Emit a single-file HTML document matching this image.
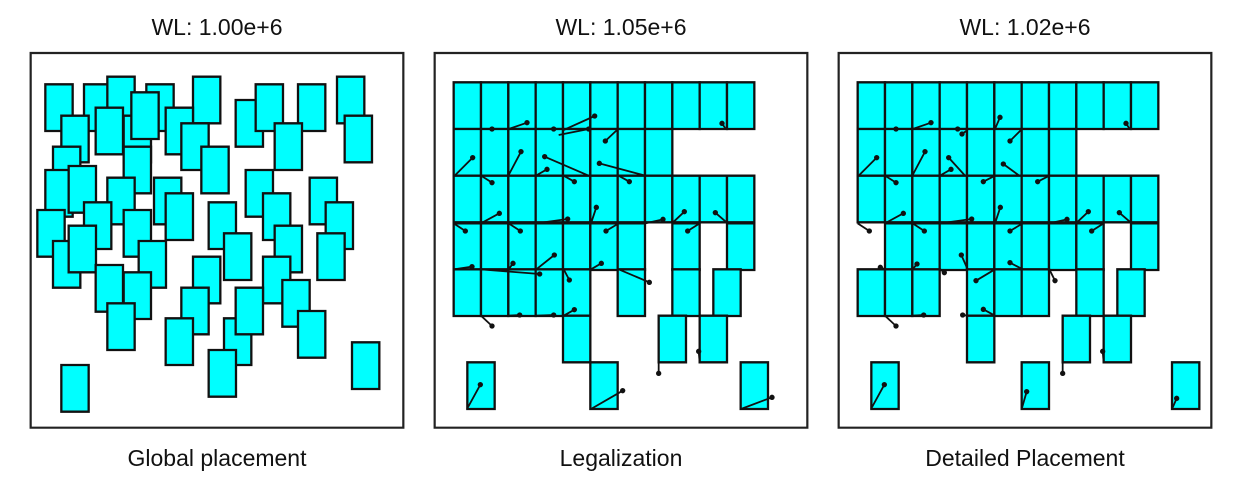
<!DOCTYPE html>
<html><head><meta charset="utf-8"><style>
body{margin:0;background:#fff;width:1236px;height:493px;overflow:hidden}
svg text{font-family:"Liberation Sans",sans-serif;font-size:23px;fill:#111}
</style></head><body>
<svg id="s" width="1236" height="493">
<text x="217" y="35" text-anchor="middle">WL: 1.00e+6</text>
<text x="621" y="35" text-anchor="middle">WL: 1.05e+6</text>
<text x="1025" y="35" text-anchor="middle">WL: 1.02e+6</text>
<text x="217" y="466" text-anchor="middle">Global placement</text>
<text x="621" y="466" text-anchor="middle">Legalization</text>
<text x="1025" y="466" text-anchor="middle">Detailed Placement</text>
</svg>
<script>
const NS="http://www.w3.org/2000/svg";
const svg=document.getElementById('s');
const W=82,H=140,X0=65,CW=82,RY=[97,237,377,520,658,797,937];
const globalCells=[[52,103],[168,103],[238,80],[355,103],[495,80],[623,150],[683,103],[810,103],[927,80],[100,197],[203,173],[287,197],[310,127],[413,173],[460,220],[520,290],[740,220],[950,197],[75,290],[52,360],[122,348],[287,290],[238,383],[378,383],[413,430],[653,360],[845,383],[28,480],[168,457],[287,480],[542,457],[705,430],[893,457],[75,573],[122,527],[332,573],[588,550],[740,527],[868,550],[203,645],[287,667],[238,760],[495,620],[705,620],[460,713],[763,690],[413,805],[588,805],[623,713],[810,783],[542,900],[972,877],[100,945]];
const legalRows=[[0,1,2,3,4,5,6,7,8,9,10],[0,1,2,3,4,5,6,7],[0,1,2,3,4,5,6,7,8,9,10],[0,1,2,3,4,5,6,8,10],[0,1,2,3,4,6,8,9.5],[4,7.5,9],[0.5,5,10.5]];
const detailRows=[[0,1,2,3,4,5,6,7,8,9,10],[0,1,2,3,4,5,6,7],[0,1,2,3,4,5,6,7,8,9,10],[1,2,3,4,5,6,7,8,10],[0,1,2,4,5,6,8,9.5],[4,7.5,9],[0.5,6,11.5]];
const legalPins=[[180,237,180,237],[230,237,285,218],[365,237,365,237],[395,240,488,198],[380,255,470,237],[555,240,520,273],[880,235,870,220],[70,375,122,323],[230,375,267,305],[315,375,345,358],[470,377,338,320],[640,377,502,340],[147,377,180,398],[395,377,427,395],[560,377,592,395],[147,520,202,490],[313,520,407,507],[477,520,493,472],[640,520,693,508],[720,520,757,485],[887,520,850,488],[65,520,100,543],[230,520,265,543],[560,520,522,543],[803,520,767,543],[65,658,120,650],[147,658,323,672],[230,658,243,640],[313,658,367,615],[395,658,412,690],[477,658,508,640],[560,658,652,697],[147,797,180,828],[230,797,263,795],[313,797,365,795],[395,797,427,779],[680,937,680,970],[803,937,800,904],[105,1077,145,1004],[477,1077,572,1022],[927,1077,1020,1042]];
const detailPins=[[180,237,180,237],[230,237,285,218],[365,237,365,237],[395,240,378,252],[477,237,492,202],[555,240,522,273],[880,235,870,220],[70,375,122,323],[230,375,267,305],[315,375,345,358],[387,377,338,323],[550,377,502,342],[147,377,180,398],[477,377,442,395],[640,377,605,395],[147,520,202,490],[313,520,407,507],[477,520,493,472],[640,520,693,508],[720,520,757,485],[887,520,850,488],[65,520,100,543],[230,520,265,543],[560,520,522,543],[803,520,767,543],[147,658,133,652],[230,658,243,642],[313,658,325,668],[395,658,376,615],[477,658,420,692],[560,658,522,638],[640,658,657,692],[147,797,180,828],[230,797,263,795],[395,797,380,795],[477,797,442,778],[680,797,680,970],[803,937,800,904],[105,1077,145,1004],[557,1077,572,1025],[1008,1077,1022,1045]];
function el(t,a,p){const e=document.createElementNS(NS,t);for(const k in a)e.setAttribute(k,a[k]);p.appendChild(e);return e;}
function panel(ox,name){
 const g=el('g',{transform:`translate(${ox},50) scale(${1/3})`},svg);
 
 
 const f=el('rect',{x:8,y:9,width:1118,height:1124,fill:'#fff',stroke:'#222','stroke-width':2.2,'vector-effect':'non-scaling-stroke'},g);
 
 
 return g;}
function cell(g,x,y){const r=el('rect',{x:x,y:y,width:W,height:H,fill:'#00ffff',stroke:'#111','stroke-width':2.3,'vector-effect':'non-scaling-stroke'},g);
 
 }
function pin(g,p){const l=el('line',{x1:p[0],y1:p[1],x2:p[2],y2:p[3],stroke:'#111','stroke-width':1.8,'vector-effect':'non-scaling-stroke'},g);
 
 
 const c=el('circle',{cx:p[2],cy:p[3],r:8,fill:'#111'},g);
 
 }
const g1=panel(28,'global-placement-panel');
globalCells.forEach(c=>cell(g1,c[0],c[1]));
[[432,'legalization-panel',legalRows,legalPins],[836,'detailed-placement-panel',detailRows,detailPins]].forEach(([ox,n,rows,pins])=>{
 const g=panel(ox,n);
 rows.forEach((cols,r)=>cols.forEach(c=>cell(g,X0+c*CW,RY[r])));
 pins.forEach(p=>pin(g,p));
});
</script>
</body></html>
